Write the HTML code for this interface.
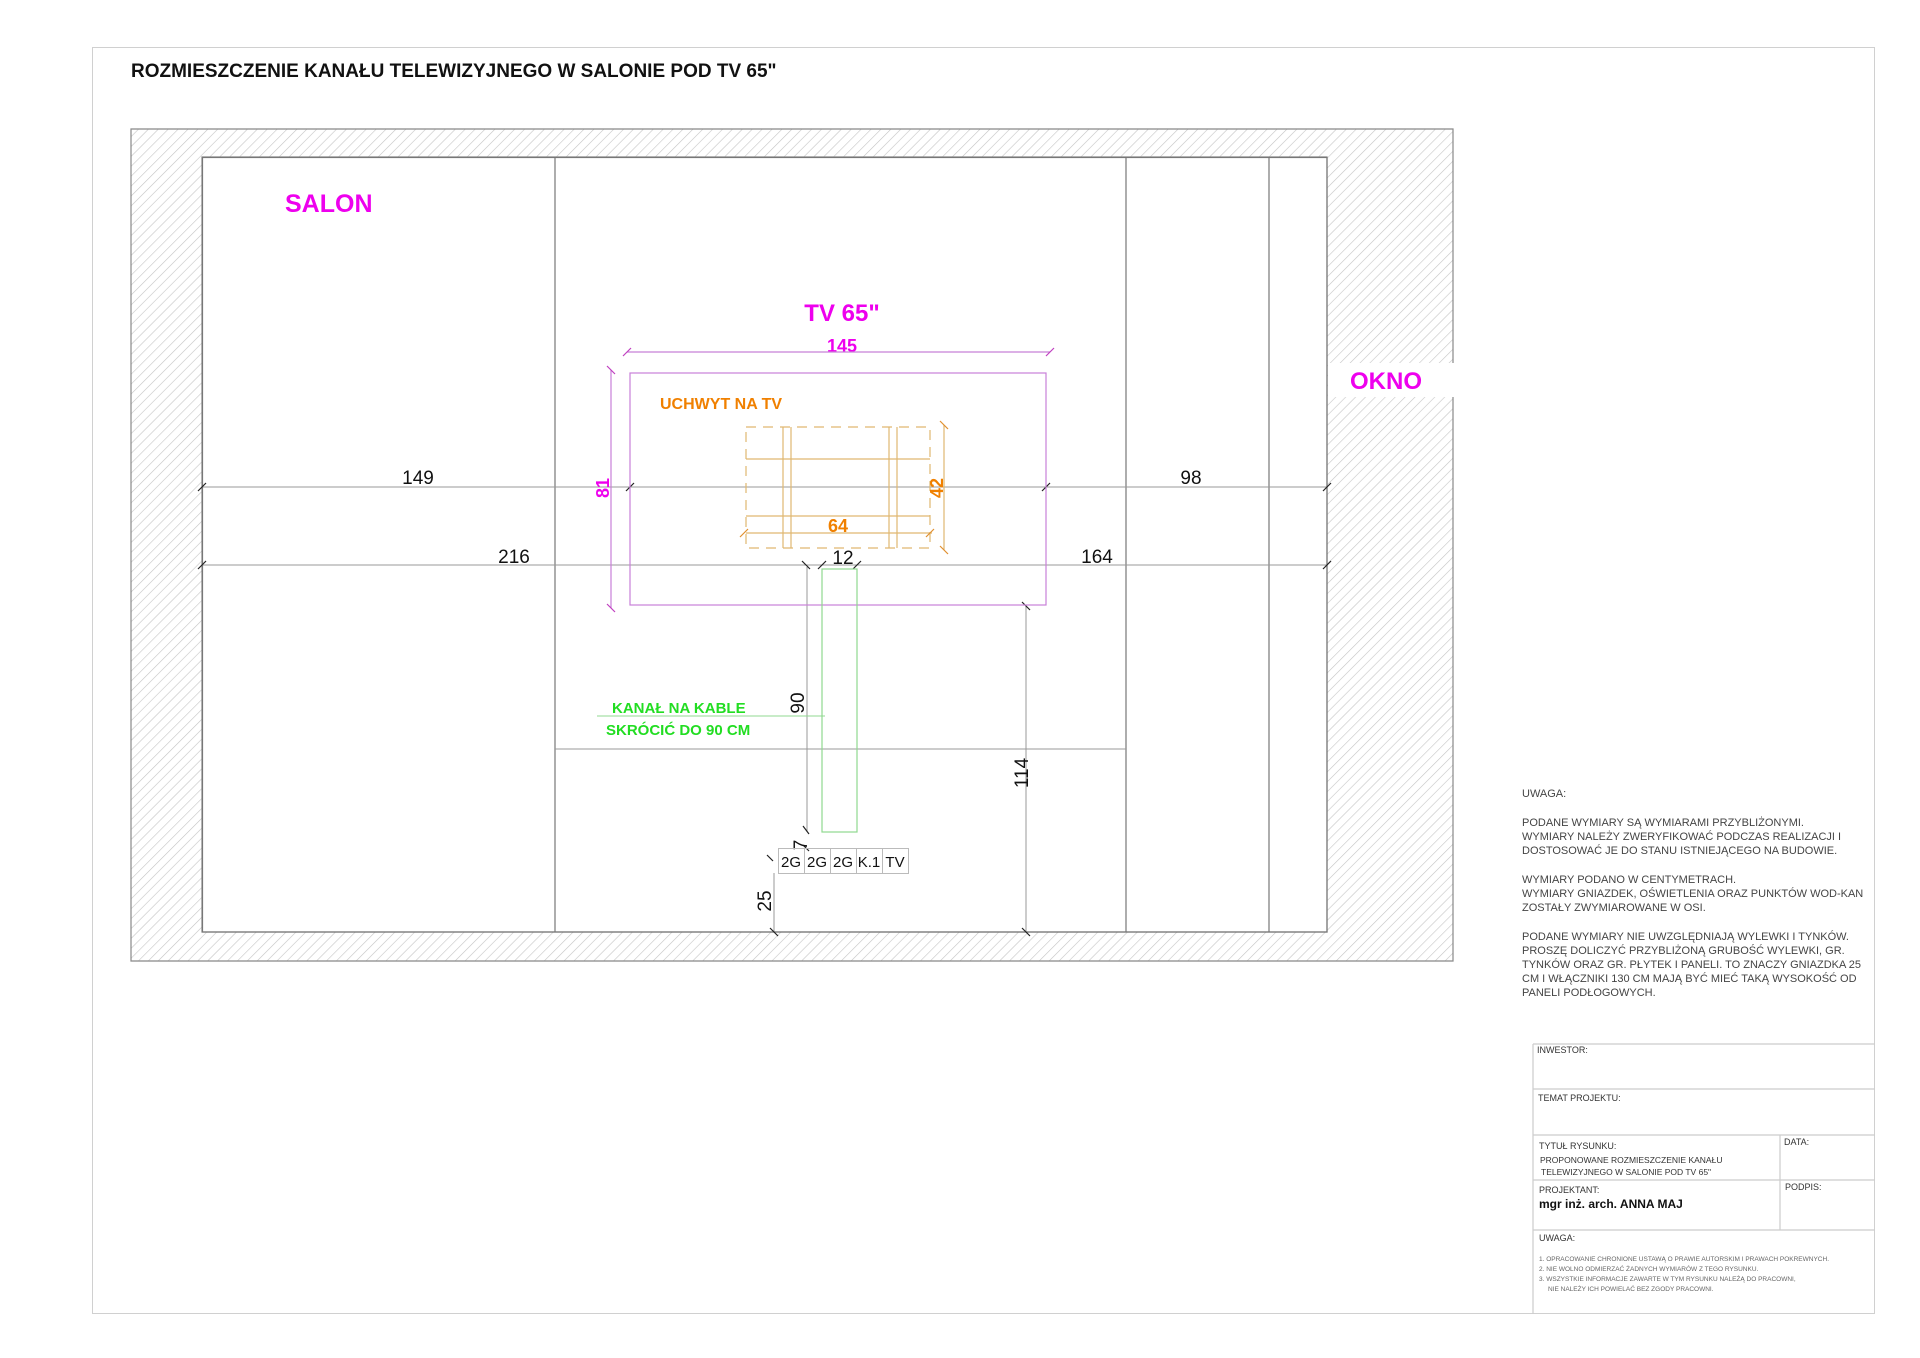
<!DOCTYPE html>
<html><head><meta charset="utf-8"><style>
html,body{margin:0;padding:0;background:#fff;}
svg{display:block;}
text{font-family:"Liberation Sans",Arial,sans-serif;}
</style></head><body>
<svg width="1920" height="1358" viewBox="0 0 1920 1358" xmlns="http://www.w3.org/2000/svg">
<defs>
<pattern id="h" patternUnits="userSpaceOnUse" width="7" height="7" patternTransform="rotate(45)">
<line x1="0" y1="0" x2="0" y2="7" stroke="#c4c4c4" stroke-width="1.2"/>
</pattern>
</defs>
<rect x="0" y="0" width="1920" height="1358" fill="#fff"/>
<rect x="92.5" y="47.5" width="1782" height="1266" fill="none" stroke="#d0d0d0" stroke-width="1"/>
<text x="131" y="77" font-size="19" font-weight="bold" fill="#111">ROZMIESZCZENIE KANAŁU TELEWIZYJNEGO W SALONIE POD TV 65"</text>

<path d="M131 129 H1453 V961 H131 Z M202 157 V932 H1327 V157 Z" fill="url(#h)" fill-rule="evenodd" stroke="#888" stroke-width="1.2"/>
<rect x="1328" y="363" width="126" height="34" fill="#fff"/>
<rect x="202.5" y="157.5" width="1124.5" height="774.5" fill="none" stroke="#777" stroke-width="1.2"/>
<line x1="555" y1="157" x2="555" y2="932" stroke="#777" stroke-width="1.2"/>
<line x1="1126" y1="157" x2="1126" y2="932" stroke="#777" stroke-width="1.2"/>
<line x1="1269" y1="157" x2="1269" y2="932" stroke="#777" stroke-width="1.2"/>

<text x="285" y="212" font-size="25" font-weight="bold" fill="#ee00ee">SALON</text>
<text x="1350" y="389" font-size="24" font-weight="bold" fill="#ee00ee">OKNO</text>

<g stroke="#999" stroke-width="1">
<line x1="202" y1="487" x2="1327" y2="487"/>
<line x1="202" y1="565" x2="1327" y2="565"/>
<line x1="555" y1="749" x2="1126" y2="749"/>
<line x1="807" y1="567" x2="807" y2="832"/>
<line x1="1026" y1="605" x2="1026" y2="932"/>
<line x1="774" y1="873" x2="774" y2="932"/>
</g>
<g stroke="#222" stroke-width="1.2">
<line x1="198" y1="491" x2="206" y2="483"/><line x1="626" y1="491" x2="634" y2="483"/><line x1="1042" y1="491" x2="1050" y2="483"/><line x1="1323" y1="491" x2="1331" y2="483"/>
<line x1="198" y1="569" x2="206" y2="561"/><line x1="1323" y1="569" x2="1331" y2="561"/>
<line x1="802" y1="561" x2="810" y2="569"/><line x1="818" y1="569" x2="826" y2="561"/><line x1="853" y1="569" x2="861" y2="561"/>
<line x1="1022" y1="602" x2="1030" y2="610"/><line x1="1022" y1="928" x2="1030" y2="936"/>
<line x1="770" y1="928" x2="778" y2="936"/><line x1="767" y1="855" x2="773" y2="861"/>
<line x1="803" y1="826" x2="809" y2="834"/><line x1="803" y1="845" x2="809" y2="851"/>
</g>
<g font-size="19" fill="#111" text-anchor="middle">
<text x="418" y="484">149</text>
<text x="1191" y="484">98</text>
<text x="514" y="563">216</text>
<text x="1097" y="563">164</text>
<text x="843" y="564">12</text>
<text transform="translate(804,703) rotate(-90)">90</text>
<text transform="translate(1028,773) rotate(-90)">114</text>
<text transform="translate(771,901) rotate(-90)">25</text>
<text transform="translate(807,845) rotate(-90)">7</text>
</g>

<text x="842" y="321" font-size="24" font-weight="bold" fill="#ee00ee" text-anchor="middle">TV 65"</text>
<text x="842" y="352" font-size="18" font-weight="bold" fill="#ee00ee" text-anchor="middle">145</text>
<g stroke="#c880d8" stroke-width="1.2" fill="none">
<rect x="630" y="373" width="416" height="232"/>
<line x1="627" y1="352" x2="1050" y2="352"/>
<line x1="611" y1="370" x2="611" y2="608"/>
</g>
<g stroke="#c040c0" stroke-width="1.2">
<line x1="623" y1="356" x2="631" y2="348"/><line x1="1046" y1="356" x2="1054" y2="348"/>
<line x1="607" y1="366" x2="615" y2="374"/><line x1="607" y1="604" x2="615" y2="612"/>
</g>
<text transform="translate(609,488) rotate(-90)" font-size="18" font-weight="bold" fill="#ee00ee" text-anchor="middle">81</text>

<text x="660" y="409" font-size="16" font-weight="bold" fill="#f08000">UCHWYT NA TV</text>
<g stroke="#e0b870" stroke-width="1.2" fill="none">
<rect x="746" y="427" width="184" height="121" stroke-dasharray="10,7"/>
<line x1="783" y1="427" x2="783" y2="548"/><line x1="791" y1="427" x2="791" y2="548"/>
<line x1="889" y1="427" x2="889" y2="548"/><line x1="897" y1="427" x2="897" y2="548"/>
<line x1="746" y1="459" x2="930" y2="459"/><line x1="746" y1="516" x2="930" y2="516"/>
<line x1="746" y1="533" x2="932" y2="533"/>
<line x1="944" y1="425" x2="944" y2="550"/>
</g>
<g stroke="#e09030" stroke-width="1.2">
<line x1="740" y1="537" x2="748" y2="529"/><line x1="926" y1="537" x2="934" y2="529"/>
<line x1="940" y1="421" x2="948" y2="429"/><line x1="940" y1="546" x2="948" y2="554"/>
</g>
<text x="838" y="532" font-size="18" font-weight="bold" fill="#f08000" text-anchor="middle">64</text>
<text transform="translate(943,488) rotate(-90)" font-size="18" font-weight="bold" fill="#f08000" text-anchor="middle">42</text>

<rect x="822" y="569" width="35" height="263" fill="none" stroke="#90d890" stroke-width="1.2"/>
<line x1="597" y1="716" x2="825" y2="716" stroke="#90d890" stroke-width="1"/>
<text x="612" y="713" font-size="15" font-weight="bold" fill="#22dd22">KANAŁ NA KABLE</text>
<text x="606" y="735" font-size="15" font-weight="bold" fill="#22dd22">SKRÓCIĆ DO 90 CM</text>

<g stroke="#bbb" stroke-width="1" fill="none">
<rect x="778.5" y="848.5" width="130" height="25"/>
<line x1="804.5" y1="848" x2="804.5" y2="874"/><line x1="830.5" y1="848" x2="830.5" y2="874"/>
<line x1="856.5" y1="848" x2="856.5" y2="874"/><line x1="882.5" y1="848" x2="882.5" y2="874"/>
</g>
<g font-size="15" fill="#111" text-anchor="middle">
<text x="791" y="867">2G</text><text x="817" y="867">2G</text><text x="843" y="867">2G</text><text x="869" y="867">K.1</text><text x="895" y="867">TV</text>
</g>

<g font-size="11" fill="#444">
<text x="1522" y="797">UWAGA:</text>
<text x="1522" y="826">PODANE WYMIARY SĄ WYMIARAMI PRZYBLIŻONYMI.</text>
<text x="1522" y="840">WYMIARY NALEŻY ZWERYFIKOWAĆ PODCZAS REALIZACJI I</text>
<text x="1522" y="854">DOSTOSOWAĆ JE DO STANU ISTNIEJĄCEGO NA BUDOWIE.</text>
<text x="1522" y="883">WYMIARY PODANO W CENTYMETRACH.</text>
<text x="1522" y="897">WYMIARY GNIAZDEK, OŚWIETLENIA ORAZ PUNKTÓW WOD-KAN</text>
<text x="1522" y="911">ZOSTAŁY ZWYMIAROWANE W OSI.</text>
<text x="1522" y="940">PODANE WYMIARY NIE UWZGLĘDNIAJĄ WYLEWKI I TYNKÓW.</text>
<text x="1522" y="954">PROSZĘ DOLICZYĆ PRZYBLIŻONĄ GRUBOŚĆ WYLEWKI, GR.</text>
<text x="1522" y="968">TYNKÓW ORAZ GR. PŁYTEK I PANELI. TO ZNACZY GNIAZDKA 25</text>
<text x="1522" y="982">CM I WŁĄCZNIKI 130 CM MAJĄ BYĆ MIEĆ TAKĄ WYSOKOŚĆ OD</text>
<text x="1522" y="996">PANELI PODŁOGOWYCH.</text>
</g>

<g stroke="#ccc" stroke-width="1.2" fill="none">
<line x1="1533" y1="1044" x2="1533" y2="1314"/>
<line x1="1533" y1="1044" x2="1875" y2="1044"/>
<line x1="1533" y1="1089" x2="1875" y2="1089"/>
<line x1="1533" y1="1135" x2="1875" y2="1135"/>
<line x1="1533" y1="1180" x2="1875" y2="1180"/>
<line x1="1533" y1="1230" x2="1875" y2="1230"/>
<line x1="1780" y1="1135" x2="1780" y2="1230"/>
</g>
<g font-size="9" fill="#333">
<text x="1537" y="1053">INWESTOR:</text>
<text x="1538" y="1101">TEMAT PROJEKTU:</text>
<text x="1539" y="1149">TYTUŁ RYSUNKU:</text>
<text x="1784" y="1145">DATA:</text>
<text x="1540" y="1163" font-size="8.5">PROPONOWANE ROZMIESZCZENIE KANAŁU</text>
<text x="1541" y="1175" font-size="8.5">TELEWIZYJNEGO W SALONIE POD TV 65"</text>
<text x="1539" y="1193">PROJEKTANT:</text>
<text x="1785" y="1190">PODPIS:</text>
<text x="1539" y="1208" font-size="12" font-weight="bold" fill="#111">mgr inż. arch. ANNA MAJ</text>
<text x="1539" y="1241">UWAGA:</text>
<g font-size="6.5" fill="#666">
<text x="1539" y="1261">1. OPRACOWANIE CHRONIONE USTAWĄ O PRAWIE AUTORSKIM I PRAWACH POKREWNYCH.</text>
<text x="1539" y="1271">2. NIE WOLNO ODMIERZAĆ ŻADNYCH WYMIARÓW Z TEGO RYSUNKU.</text>
<text x="1539" y="1281">3. WSZYSTKIE INFORMACJE ZAWARTE W TYM RYSUNKU NALEŻĄ DO PRACOWNI,</text>
<text x="1548" y="1291">NIE NALEŻY ICH POWIELAĆ BEZ ZGODY PRACOWNI.</text>
</g>
</g>
</svg>
</body></html>
